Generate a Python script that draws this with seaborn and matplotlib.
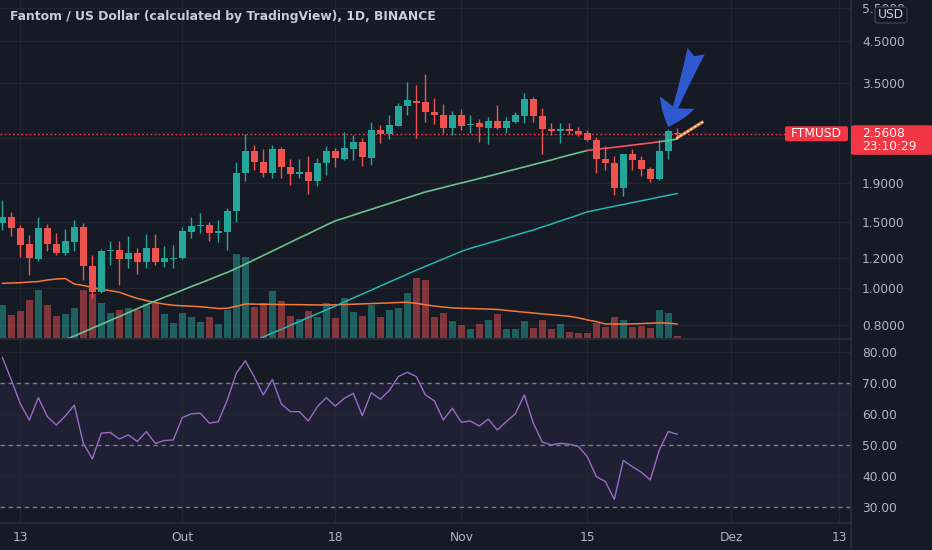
import numpy as np
import pandas as pd
import matplotlib
matplotlib.use("Agg")
import matplotlib.pyplot as plt
import seaborn as sns
from matplotlib.ticker import FixedLocator, NullLocator, FixedFormatter
from matplotlib.patches import FancyBboxPatch, FancyArrowPatch
from matplotlib.lines import Line2D

# ---------------- data ----------------
start_date = "2021-09-11"
opens = [1.49, 1.545, 1.44, 1.305, 1.19, 1.44, 1.305, 1.24, 1.326, 1.45,
         1.146, 0.978, 1.25, 1.26, 1.19, 1.24, 1.17, 1.28, 1.17, 1.195,
         1.20, 1.41, 1.46, 1.47, 1.40, 1.41, 1.60, 2.02, 2.30, 2.16,
         2.02, 2.33, 2.095, 2.00, 2.025, 1.925, 2.14, 2.31, 2.20, 2.34,
         2.43, 2.21, 2.62, 2.555, 2.69, 3.04, 3.13, 3.10, 2.92, 2.87,
         2.66, 2.87, 2.71, 2.73, 2.66, 2.77, 2.65, 2.76, 2.86, 3.17,
         2.86, 2.64, 2.61, 2.63, 2.60, 2.58, 2.47, 2.19, 2.14, 1.84,
         2.27, 2.18, 2.06, 1.94, 2.31, 2.58]
highs = [1.71, 1.59, 1.47, 1.38, 1.54, 1.48, 1.40, 1.43, 1.51, 1.49,
         1.22, 1.27, 1.33, 1.33, 1.37, 1.28, 1.39, 1.39, 1.29, 1.30,
         1.45, 1.54, 1.58, 1.50, 1.51, 1.63, 2.15, 2.56, 2.39, 2.33,
         2.39, 2.36, 2.20, 2.20, 2.24, 2.21, 2.38, 2.35, 2.59, 2.54,
         2.49, 2.76, 2.71, 2.88, 3.09, 3.51, 3.45, 3.68, 3.19, 3.07,
         2.94, 2.98, 2.88, 2.81, 2.84, 3.05, 2.83, 2.93, 3.28, 3.21,
         3.00, 2.73, 2.74, 2.73, 2.67, 2.62, 2.51, 2.37, 2.24, 2.27,
         2.33, 2.24, 2.09, 2.47, 2.64, 2.65]
lows = [1.42, 1.37, 1.21, 1.08, 1.18, 1.255, 1.22, 1.22, 1.255, 1.05,
        0.94, 0.97, 1.15, 1.02, 1.13, 1.09, 1.13, 1.15, 1.14, 1.13,
        1.19, 1.36, 1.40, 1.33, 1.32, 1.26, 1.50, 1.92, 2.05, 1.97,
        1.96, 1.95, 1.87, 1.96, 1.77, 1.86, 1.99, 2.09, 2.18, 2.18,
        2.10, 2.12, 2.42, 2.48, 2.68, 2.87, 2.49, 2.75, 2.72, 2.58,
        2.54, 2.62, 2.57, 2.44, 2.40, 2.64, 2.57, 2.73, 2.74, 2.76,
        2.26, 2.54, 2.42, 2.56, 2.52, 2.45, 2.02, 2.05, 1.76, 1.75,
        2.05, 1.98, 1.91, 1.93, 2.19, 2.53]
closes = [1.545, 1.44, 1.30, 1.20, 1.44, 1.305, 1.24, 1.33, 1.45, 1.146,
          0.978, 1.25, 1.26, 1.19, 1.24, 1.17, 1.28, 1.17, 1.20, 1.20,
          1.415, 1.46, 1.47, 1.40, 1.415, 1.60, 2.02, 2.30, 2.15, 2.02,
          2.33, 2.095, 2.00, 2.03, 1.925, 2.14, 2.31, 2.21, 2.35, 2.43,
          2.22, 2.62, 2.555, 2.70, 3.04, 3.15, 3.09, 2.92, 2.88, 2.66,
          2.87, 2.69, 2.72, 2.67, 2.77, 2.65, 2.77, 2.87, 3.17, 2.86,
          2.63, 2.60, 2.63, 2.60, 2.56, 2.47, 2.19, 2.14, 1.84, 2.26,
          2.18, 2.07, 1.94, 2.31, 2.60, 2.5608]
volumes = [32.7, 22.7, 27, 37.7, 47.7, 32.7, 21.7, 24.3, 30.3, 47.7,
           44.3, 35.3, 25, 28.3, 30.3, 28.3, 34.3, 35.3, 23.7, 15.3,
           25, 21, 16, 21, 13.7, 28.3, 84.3, 81, 31, 35.3,
           47, 36.7, 21.7, 18.7, 27, 21, 35, 20, 40.3, 26,
           22, 32.7, 21, 27.7, 30, 45, 60.3, 58.3, 21, 25,
           16.7, 13.3, 9.3, 14.3, 18.3, 24.3, 8.7, 8.7, 17, 10.3,
           18.3, 8.7, 13.7, 6, 5.3, 5.3, 15.3, 11, 21, 17.7,
           11, 11.7, 10, 28.3, 25.3, 2]
volume_ma = [54.7, 55, 55.3, 56, 56.5, 58, 59, 59.5, 54, 52.5,
             50.5, 48.7, 47.3, 45.8, 42.5, 39.6, 37.4, 35.4, 33.9, 32.7,
             32.2, 31.8, 31.3, 30.4, 29.5, 29.7, 31.7, 34, 33.9, 33.7,
             33.6, 33.5, 33.4, 33.3, 33.2, 33.1, 33, 33.2, 33.5, 33.8,
             34.1, 34.4, 34.8, 35.1, 35.5, 35.7, 34.7, 33.2, 32, 30.9,
             30.1, 29.7, 29.5, 29.2, 28.9, 28.6, 27.6, 26.7, 25.8, 25,
             24.1, 23.3, 22.5, 21.7, 20.2, 18.1, 16.4, 14, 14, 14,
             14.1, 14.4, 14.8, 15.2, 14.8, 14]
nan = np.nan
ma_fast = [nan] * 7 + [
    0.730, 0.746, 0.764, 0.783, 0.801, 0.821, 0.840, 0.861, 0.881, 0.903,
    0.924, 0.945, 0.965, 0.987, 1.009, 1.030, 1.053, 1.077, 1.100, 1.127,
    1.157, 1.188, 1.220, 1.253, 1.286, 1.321, 1.357, 1.392, 1.430, 1.468,
    1.506, 1.532, 1.560, 1.588, 1.616, 1.645, 1.674, 1.704, 1.734, 1.765,
    1.796, 1.820, 1.846, 1.872, 1.897, 1.923, 1.950, 1.977, 2.005, 2.034,
    2.063, 2.092, 2.122, 2.152, 2.182, 2.217, 2.249, 2.281, 2.313, 2.329,
    2.344, 2.358, 2.374, 2.390, 2.406, 2.421, 2.440, 2.458, 2.481]
ma_slow = [nan] * 28 + [
    0.724, 0.742, 0.760, 0.777, 0.796, 0.815, 0.835, 0.855, 0.875, 0.896,
    0.918, 0.941, 0.964, 0.987, 1.012, 1.037, 1.062, 1.088, 1.115, 1.141,
    1.167, 1.194, 1.221, 1.250, 1.274, 1.294, 1.315, 1.336, 1.358, 1.380,
    1.402, 1.424, 1.451, 1.477, 1.505, 1.532, 1.561, 1.591, 1.609, 1.628,
    1.646, 1.664, 1.683, 1.702, 1.721, 1.741, 1.760, 1.779]
rsi = [78.2, 70.9, 63.2, 58.0, 65.2, 59.1, 56.4, 59.3, 62.8, 50.5,
       45.5, 53.8, 54.0, 51.9, 53.2, 51.1, 54.3, 50.5, 51.4, 51.6,
       58.8, 60.0, 60.2, 57.0, 57.5, 64.5, 73.1, 77.1, 71.8, 66.1,
       71.1, 63.2, 60.7, 60.7, 57.7, 62.3, 65.2, 62.5, 65.0, 66.6,
       59.4, 66.8, 64.7, 67.5, 72.0, 73.4, 72.0, 66.1, 64.2, 58.0,
       61.8, 57.3, 57.7, 56.1, 58.3, 54.8, 57.5, 60.0, 66.1, 57.0,
       50.9, 50.0, 50.5, 50.2, 49.5, 46.2, 39.8, 38.2, 32.5, 45.0,
       43.0, 41.2, 38.7, 48.4, 54.3, 53.4]

tick_dates = ["2021-09-13", "2021-10-01", "2021-10-18", "2021-11-01",
              "2021-11-15", "2021-12-01", "2021-12-13"]
tick_labels = ["13", "Out", "18", "Nov", "15", "Dez", "13"]
price_ticks = [0.8, 1.0, 1.2, 1.5, 1.9, 2.5, 3.5, 4.5, 5.5]
rsi_ticks = [80, 70, 60, 50, 40, 30]
title = "Fantom / US Dollar (calculated by TradingView), 1D, BINANCE"
symbol = "FTMUSD"
countdown = "23:10:29"

# ---------------- setup ----------------
n = len(closes)
dates = pd.date_range(start_date, periods=n, freq="D")
xs = np.arange(n)
tick_x = [(pd.Timestamp(d) - dates[0]).days for d in tick_dates]
o = np.array(opens); h = np.array(highs); l = np.array(lows); c = np.array(closes)
up = c >= o

BG = "#161a25"
GRID = "#222632"
SEP = "#2a2e39"
TXT = "#b2b5be"
UP = "#26a69a"
DOWN = "#ef5350"
PRICE_RED = "#f23645"

sns.set_theme(style="dark")
plt.rcParams["font.family"] = ["DejaVu Sans"]
plt.rcParams["axes.facecolor"] = BG
plt.rcParams["figure.facecolor"] = BG

XLIM = (-0.26, 94.3)
YLIM = (0.7372, 5.790)
RSI_LIM = (24.85, 83.77)
W = 851 / 932
main_rect = [0, 1 - 338 / 550, W, 338 / 550]

fig = plt.figure(figsize=(9.32, 5.5), dpi=100, facecolor=BG)
ax_bg = fig.add_axes(main_rect)
ax_vol = fig.add_axes(main_rect)
ax = fig.add_axes(main_rect)
ax_rsi = fig.add_axes([0, 1 - 523 / 550, W, 183 / 550])

# background grid axes
ax_bg.set_facecolor(BG)
ax_bg.set_yscale("log")
ax_bg.set_xlim(*XLIM); ax_bg.set_ylim(*YLIM)
for p in price_ticks:
    ax_bg.axhline(p, color=GRID, lw=1, zorder=0)
for tx in tick_x:
    ax_bg.axvline(tx, color=GRID, lw=1, zorder=0)
ax_bg.set_xticks([]); ax_bg.set_yticks([]); ax_bg.minorticks_off()
for s in ax_bg.spines.values():
    s.set_visible(False)

# volume
ax_vol.set_facecolor("none")
ax_vol.patch.set_alpha(0)
vol_colors = [UP if u else DOWN for u in up]
ax_vol.bar(xs, volumes, width=0.8, color=vol_colors, alpha=0.5, linewidth=0)
vdf = pd.DataFrame({"x": xs, "v": volume_ma})
sns.lineplot(data=vdf, x="x", y="v", ax=ax_vol, color="#f5793b", linewidth=1.1,
             estimator=None, sort=False)
ax_vol.set_xlim(*XLIM); ax_vol.set_ylim(0, 338)
ax_vol.axis("off")

# candles
ax.set_facecolor("none")
ax.patch.set_alpha(0)
ax.set_yscale("log")
colors = np.where(up, UP, DOWN)
body_lo = np.minimum(o, c)
body_h = np.maximum(np.abs(c - o), c * 0.004)
ax.vlines(xs, l, h, colors=colors, linewidth=1.0, zorder=3)
ax.bar(xs, body_h, bottom=body_lo, width=0.8, color=colors, linewidth=0, zorder=4)

# moving averages (fast one coloured by price below/above)
mf = np.array(ma_fast)
below = c < mf
runs = []
for i in range(1, n):
    if np.isnan(mf[i - 1]):
        continue
    col = "#f7525f" if below[i] else "#6cc18e"
    if runs and runs[-1][0] == col and runs[-1][2] == i - 1:
        runs[-1][2] = i
    else:
        runs.append([col, i - 1, i])
for col, a, b in runs:
    seg = pd.DataFrame({"x": xs[a:b + 1], "y": mf[a:b + 1]})
    sns.lineplot(data=seg, x="x", y="y", ax=ax, color=col, linewidth=1.2,
                 estimator=None, sort=False, zorder=5)
sdf = pd.DataFrame({"x": xs, "y": ma_slow}).dropna()
sns.lineplot(data=sdf, x="x", y="y", ax=ax, color="#27b5b0", linewidth=1.1,
             estimator=None, sort=False, zorder=5)

# current price line
last = closes[-1]
ax.axhline(last, color=PRICE_RED, lw=1.0, ls=(0, (1.2, 1.8)), zorder=2)

# annotations: arrow + drawing
arrow = FancyArrowPatch((77.1, 4.24), (74.0, 2.67),
                        arrowstyle="fancy,head_width=1.2,head_length=0.85,tail_width=0.6",
                        mutation_scale=22, color="#3059cf", lw=0, zorder=8,
                        shrinkA=0, shrinkB=0)
ax.add_patch(arrow)
ax.plot([74.9, 77.9], [2.49, 2.76], color="#f08a4b", lw=2.2, zorder=7, solid_capstyle="butt")
ax.plot([74.9, 77.9], [2.49, 2.76], color="#f3e6dc", lw=1.0, ls=(0, (1.5, 1.5)), zorder=7)

ax.set_xlim(*XLIM); ax.set_ylim(*YLIM)
ax.set_xticks([])
ax.yaxis.tick_right()
ax.yaxis.set_major_locator(FixedLocator(price_ticks))
ax.yaxis.set_minor_locator(NullLocator())
ax.yaxis.set_major_formatter(FixedFormatter(["" if p == 2.5 else f"{p:.4f}" for p in price_ticks]))
ax.tick_params(axis="y", length=0, pad=8, labelsize=8.8, labelcolor=TXT)
ax.set_xlabel(""); ax.set_ylabel("")
for s in ax.spines.values():
    s.set_visible(False)

# RSI
ax_rsi.set_facecolor(BG)
ax_rsi.axhspan(30, 70, color="#7e57c2", alpha=0.1, lw=0, zorder=0)
for v in (80, 60, 40):
    ax_rsi.axhline(v, color=GRID, lw=1, zorder=1)
for tx in tick_x:
    ax_rsi.axvline(tx, color=GRID, lw=1, zorder=1)
for v in (70, 50, 30):
    ax_rsi.axhline(v, color="#787b86", lw=1, ls=(0, (3.2, 2.6)), zorder=2)
rdf = pd.DataFrame({"x": xs, "rsi": rsi})
sns.lineplot(data=rdf, x="x", y="rsi", ax=ax_rsi, color="#9a6bc4", linewidth=1.0,
             estimator=None, sort=False, zorder=3)
ax_rsi.set_xlim(*XLIM); ax_rsi.set_ylim(*RSI_LIM)
ax_rsi.yaxis.tick_right()
ax_rsi.set_yticks(rsi_ticks)
ax_rsi.set_yticklabels([f"{v:.2f}" for v in rsi_ticks])
ax_rsi.set_xticks(tick_x)
ax_rsi.set_xticklabels(tick_labels)
ax_rsi.tick_params(axis="y", length=0, pad=8, labelsize=8.8, labelcolor=TXT)
ax_rsi.tick_params(axis="x", length=0, pad=6, labelsize=8.8, labelcolor=TXT)
ax_rsi.set_xlabel(""); ax_rsi.set_ylabel("")
ax_rsi.grid(False)
for s in ax_rsi.spines.values():
    s.set_visible(False)

# separators
fig.add_artist(Line2D([0, W], [1 - 339 / 550] * 2, transform=fig.transFigure, color=SEP, lw=1.2))
fig.add_artist(Line2D([0, W], [1 - 523 / 550] * 2, transform=fig.transFigure, color=SEP, lw=1.2))
fig.add_artist(Line2D([W, W], [0, 1], transform=fig.transFigure, color=SEP, lw=1.2))

# title
fig.text(10 / 932, 1 - 19.7 / 550, title, color="#c9ccd4", fontsize=8.9,
         fontweight="bold", ha="left", va="baseline")

# price label boxes (positioned from the last price)
fig.canvas.draw()
yd = ax.transData.transform((0, last))[1]
fig.add_artist(FancyBboxPatch((785, yd - 7.5), 63, 15, boxstyle="round,pad=0,rounding_size=2",
                              transform=None, facecolor=PRICE_RED, edgecolor="none", zorder=10))
fig.text(816.5 / 932, yd / 550, symbol, color="#f5f5f5", fontsize=8.8,
         ha="center", va="center", zorder=11)
fig.add_artist(FancyBboxPatch((851, yd - 21), 82, 29.5, boxstyle="round,pad=0,rounding_size=2",
                              transform=None, facecolor=PRICE_RED, edgecolor="none", zorder=10))
fig.text(862 / 932, (yd + 0.5) / 550, f"{last:.4f}", color="#f5f5f5", fontsize=8.8,
         ha="left", va="center", zorder=11)
fig.text(862 / 932, (yd - 13) / 550, countdown, color="#f5f5f5", fontsize=8.8,
         ha="left", va="center", zorder=11)

# USD badge (covers part of the top price label, as in the original)
fig.add_artist(FancyBboxPatch((875, 527), 32, 16, boxstyle="round,pad=0,rounding_size=3",
                              transform=None, facecolor="#131722", edgecolor="#3a3e4a",
                              lw=1, zorder=10))
fig.text(891 / 932, 535 / 550, "USD", color="#d1d4dc", fontsize=8.8,
         ha="center", va="center", zorder=11)

fig.savefig("out.png", dpi=100, facecolor=BG)
